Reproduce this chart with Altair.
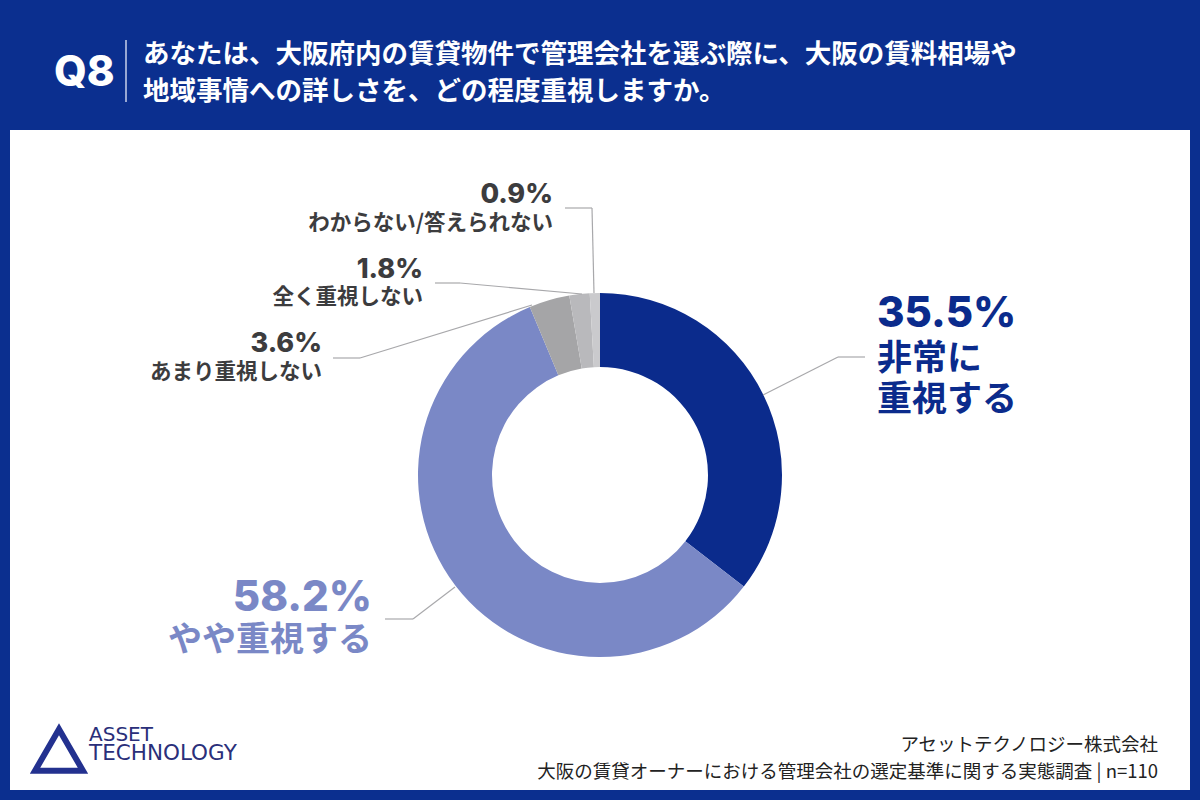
import altair as alt
import pandas as pd

# ---- data ----
categories = ["非常に重視する", "やや重視する", "あまり重視しない", "全く重視しない", "わからない/答えられない"]
values = [35.5, 58.2, 3.6, 1.8, 0.9]
display_labels = ["非常に\n重視する", "やや重視する", "あまり重視しない", "全く重視しない", "わからない/答えられない"]
slice_colors = ["#0b2b8c", "#7a88c6", "#a5a5a7", "#b9b9bc", "#cacacd"]

header_q = "Q8"
question_lines = [
    "あなたは、大阪府内の賃貸物件で管理会社を選ぶ際に、大阪の賃料相場や",
    "地域事情への詳しさを、どの程度重視しますか。",
]
footer_lines = [
    "アセットテクノロジー株式会社",
    "大阪の賃貸オーナーにおける管理会社の選定基準に関する実態調査 | n=110",
]
logo_lines = ["ASSET", "TECHNOLOGY"]

BG = "#0b2f8f"
JP = "Noto Sans CJK JP"
NUM = "Inter"

df = pd.DataFrame({
    "category": categories,
    "value": values,
    "order": list(range(len(categories))),
    "pct": [f"{v}%" for v in values],
    "label": display_labels,
})

layers = []

# white panel
layers.append(
    alt.Chart(pd.DataFrame({"a": [0]})).mark_rect(color="white").encode(
        x=alt.value(10), x2=alt.value(1190), y=alt.value(130), y2=alt.value(790)
    )
)

def text_layer(text, x, y, size, color, weight="bold", align="left", font=JP, baseline="middle"):
    return alt.Chart(pd.DataFrame({"t": [text]})).mark_text(
        font=font, fontSize=size, fontWeight=weight, color=color, align=align, baseline=baseline
    ).encode(text="t:N", x=alt.value(x), y=alt.value(y))

def rule(x1, y1, x2, y2, color="#a8a8ab", w=1.2):
    return alt.Chart(pd.DataFrame({"a": [0]})).mark_rule(color=color, strokeWidth=w).encode(
        x=alt.value(x1), x2=alt.value(x2), y=alt.value(y1), y2=alt.value(y2)
    )

# header
layers.append(text_layer(header_q, 54, 73, 42, "white", weight=800, font=NUM))
layers.append(rule(126, 40, 126, 102, color="#c8d0ea", w=1.5))
layers.append(text_layer(question_lines[0], 143, 55, 26.5, "white"))
layers.append(text_layer(question_lines[1], 143, 92, 26.5, "white"))

# donut
layers.append(
    alt.Chart(df).mark_arc(innerRadius=108, outerRadius=182).encode(
        theta=alt.Theta("value:Q", stack=True),
        order=alt.Order("order:Q"),
        color=alt.Color("category:N", scale=alt.Scale(domain=categories, range=slice_colors), legend=None),
        x=alt.value(600), y=alt.value(475),
    )
)

# leader lines
layers += [
    rule(565, 208, 592, 208), rule(592, 208, 594, 293),
    rule(435, 283, 460, 283), rule(460, 283, 582, 294),
    rule(333, 358, 360, 358), rule(360, 358, 532, 305),
    rule(865, 357, 838, 357), rule(838, 357, 763, 395),
    rule(385, 619, 413, 619), rule(413, 619, 455, 587),
]

def label_layers(cat, px, py, psize, lx, ly, lsize, color, align, baseline="middle", lineh=None):
    base = alt.Chart(df).transform_filter(alt.datum.category == cat)
    pct = base.mark_text(font=NUM, fontSize=psize, fontWeight=800, color=color, align=align,
                         baseline="middle").encode(text="pct:N", x=alt.value(px), y=alt.value(py))
    kw = dict(font=JP, fontSize=lsize, fontWeight="bold", color=color, align=align, baseline=baseline)
    if lineh:
        kw["lineBreak"] = "\n"
        kw["lineHeight"] = lineh
    lab = base.mark_text(**kw).encode(text="label:N", x=alt.value(lx), y=alt.value(ly))
    return [pct, lab]

navy = "#0b2b8c"
peri = "#7a88c6"
gray = "#3c3c3e"
layers += label_layers(categories[0], 877, 314, 42, 877, 342, 35, navy, "left", baseline="top", lineh=41)
layers += label_layers(categories[1], 372, 598, 42, 372, 641, 34, peri, "right")
layers += label_layers(categories[2], 322, 344, 27, 322, 373, 21.5, gray, "right")
layers += label_layers(categories[3], 423, 270, 27, 423, 298, 21.5, gray, "right")
layers += label_layers(categories[4], 553, 195, 27, 553, 224, 21.5, gray, "right")

# footer
layers.append(text_layer(footer_lines[0], 1158, 745, 18.5, "#222222", weight="normal", align="right"))
layers.append(text_layer(footer_lines[1], 1158, 772, 18.5, "#222222", weight="normal", align="right"))

# logo
layers.append(
    alt.Chart(pd.DataFrame({"a": [0]})).mark_point(
        shape="triangle-up", filled=False, strokeWidth=6, size=2300, color="#23318f", opacity=1
    ).encode(x=alt.value(59), y=alt.value(750))
)
layers.append(text_layer(logo_lines[0], 89, 735, 20, "#2a2f7a", weight="normal", font="DejaVu Sans"))
layers.append(text_layer(logo_lines[1], 89, 754, 21.5, "#2a2f7a", weight="normal", font="DejaVu Sans"))

chart = alt.layer(*layers).properties(
    width=1200, height=800, background=BG, padding=0, autosize=alt.AutoSizeParams(type="none")
).configure_view(stroke=None)

chart.save("out.html", embed_options={"renderer": "svg", "actions": False})
